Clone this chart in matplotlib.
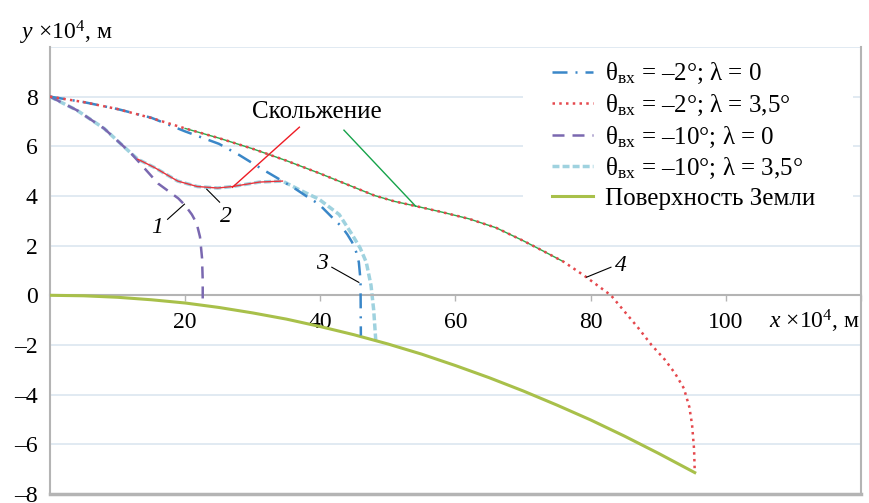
import matplotlib
matplotlib.use('Agg')
import numpy as np
import matplotlib.pyplot as plt
from matplotlib.patches import Rectangle

plt.rcParams['font.family'] = ['Liberation Serif', 'DejaVu Serif']
plt.rcParams['mathtext.fontset'] = 'custom'
plt.rcParams['mathtext.rm'] = 'Liberation Serif'
plt.rcParams['mathtext.it'] = 'Liberation Serif:italic'

# trajectory theta=-2, lambda=0
x_a = [0, 5, 10, 15, 20, 25, 28, 31.4, 34.4, 36.4, 38, 39.8, 41.7, 43.2, 44.0, 44.7, 45.3, 45.7, 45.95, 46.0]
y_a = [8, 7.78, 7.5, 7.15, 6.6, 6.1, 5.65, 5.08, 4.6, 4.27, 3.98, 3.67, 3.15, 2.75, 2.45, 2.14, 1.75, 1.33, 0.6, -1.62]
# trajectory theta=-2, lambda=3.5
x_b = [0, 5, 10, 15, 20, 25, 30, 35, 40, 45, 48, 51, 54, 58, 62, 66, 70, 73, 76, 79, 81, 83,
       85, 87, 89, 91, 92.5, 93.8, 94.6, 95.0, 95.3, 95.4]
y_b = [8, 7.78, 7.5, 7.14, 6.72, 6.33, 5.9, 5.42, 4.9, 4.35, 4.02, 3.78, 3.6, 3.35, 3.08, 2.72, 2.2, 1.78, 1.35, 0.8, 0.4, 0.0,
       -0.65, -1.3, -2.0, -2.6, -3.15, -3.75, -4.5, -5.2, -6.2, -7.1]
# trajectory theta=-10, lambda=0
x_c = [0, 4, 8, 12, 16, 19, 20, 21, 21.7, 22.2, 22.5, 22.6, 22.6]
y_c = [8, 7.45, 6.72, 5.72, 4.5, 3.9, 3.62, 3.25, 2.9, 2.35, 1.5, 0.6, -0.3]
# trajectory theta=-10, lambda=3.5
x_d = [0, 4, 8, 12, 13, 15.5, 18.9, 21.8, 24.8, 27, 31, 34.4, 36.9, 39.8, 42.8, 44.7, 45.9, 46.8, 47.5, 47.9, 48.2]
y_d = [8, 7.45, 6.72, 5.72, 5.48, 5.14, 4.6, 4.38, 4.32, 4.38, 4.56, 4.6, 4.25, 3.87, 3.25, 2.45, 1.9, 1.33, 0.4, -0.6, -1.8]
# Earth surface
x_s = [0, 5, 10, 15, 20, 25, 30, 35, 40, 45, 50, 55, 60, 65, 70, 75, 80, 85, 90, 95.4]
y_s = [0, -0.02, -0.08, -0.18, -0.31, -0.49, -0.71, -0.96, -1.26, -1.59, -1.96, -2.37, -2.83, -3.32,
       -3.85, -4.42, -5.02, -5.67, -6.36, -7.14]

# glide segments
glide_b = (20, 76)
glide_d = (13, 34.4)

labels = [r'θ$_{\mathrm{вх}}$ = –2°; λ = 0',
          r'θ$_{\mathrm{вх}}$ = –2°; λ = 3,5°',
          r'θ$_{\mathrm{вх}}$ = –10°; λ = 0',
          r'θ$_{\mathrm{вх}}$ = –10°; λ = 3,5°',
          'Поверхность Земли']

fig = plt.figure(figsize=(8.69, 5.03), dpi=100)
ax = fig.add_axes([0.0575, 0.018, 0.9333, 0.8886])

c_a, c_b, c_c, c_d, c_s = '#3a87c8', '#e5484d', '#7a68b0', '#9fd2df', '#a8c04a'

ax.plot(x_a, y_a, color=c_a, lw=1.8, dashes=(6, 3.2, 0.8, 3.2), label=labels[0], zorder=4)
ax.plot(x_b, y_b, color=c_b, lw=1.8, dashes=(1, 1.7), label=labels[1], zorder=6)
ax.plot(x_c, y_c, color=c_c, lw=1.8, dashes=(4.8, 3.2), label=labels[2], zorder=3)
ax.plot(x_d, y_d, color=c_d, lw=2.5, dashes=(2, 0.9), label=labels[3], zorder=2)
ax.plot(x_s, y_s, color=c_s, lw=2.2, label=labels[4], zorder=3)

xb, yb = np.array(x_b), np.array(y_b)
m = (xb >= glide_b[0]) & (xb <= glide_b[1])
ax.plot(xb[m], yb[m], color='#2fa84a', lw=1.0, zorder=5)
xd, yd = np.array(x_d), np.array(y_d)
m = (xd >= glide_d[0]) & (xd <= glide_d[1])
ax.plot(xd[m], yd[m], color='#e8343c', lw=1.0, zorder=5)

# annotations
ax.text(39.5, 7.38, 'Скольжение', fontsize=18, ha='center', va='center')
ax.plot([36.9, 27.0], [6.77, 4.35], color='#ee1c25', lw=1.0, zorder=7)
ax.plot([43.5, 54.1], [6.65, 3.59], color='#16a34a', lw=1.0, zorder=7)
for t, tx, ty, lx, ly in [('1', 15.9, 2.74, [17.4, 19.9], [3.06, 3.67]),
                          ('2', 26.0, 3.19, [25.1, 23.2], [3.75, 4.27]),
                          ('3', 40.3, 1.29, [41.7, 45.7], [1.13, 0.52]),
                          ('4', 84.4, 1.21, [83.0, 79.4], [1.13, 0.73])]:
    ax.text(tx, ty, t, fontsize=17, style='italic', ha='center', va='center')
    ax.plot(lx, ly, color='black', lw=0.8, zorder=7)

ax.set_xlim(0, 120)
ax.set_ylim(-8, 10)

gray = '#b4b4b4'
ax.spines['bottom'].set_position(('data', 0))
for s in ['bottom', 'left', 'right']:
    ax.spines[s].set_color(gray)
    ax.spines[s].set_linewidth(1.5)
ax.spines['top'].set_visible(False)
ax.axhline(-8, color=gray, lw=2.5, zorder=1, clip_on=False)

yt = list(range(-8, 11, 2))
ax.set_yticks(yt)
ax.set_yticklabels([str(v).replace('-', '–') if v != 10 else '' for v in yt])
ax.tick_params(axis='y', length=0, pad=9, labelsize=17)
xt = [20, 40, 60, 80, 100, 120]
ax.set_xticks(xt)
ax.set_xticklabels([str(v) if v != 120 else '' for v in xt])
ax.tick_params(axis='x', length=4, width=1, color=gray, pad=8, labelsize=17)
ax.grid(axis='y', color='#dbe6f0', lw=1.2)
ax.set_axisbelow(True)

fig.text(0.023, 0.935, r'$y$ ×10$^4$, м', fontsize=17, ha='left', va='center')
ax.text(119.8, -1.05, r'$x$ ×10$^4$, м', fontsize=17, ha='right', va='center')

# white backing behind the legend
ax.add_patch(Rectangle((0.583, 0.600), 0.407, 0.395, transform=ax.transAxes,
                       facecolor='white', edgecolor='none', zorder=1.5))
leg = ax.legend(loc='upper left', bbox_to_anchor=(0.619, 0.968), fontsize=18,
                handlelength=1.64, labelspacing=0.26, handletextpad=0.48,
                borderpad=0, borderaxespad=0, frameon=False)

fig.savefig('out.png', dpi=100)
